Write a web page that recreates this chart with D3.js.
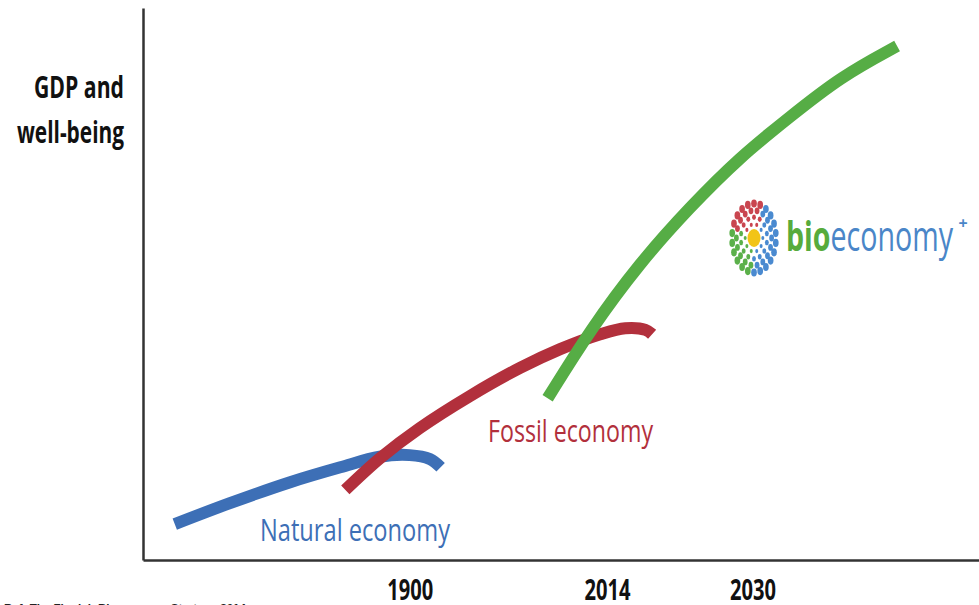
<!DOCTYPE html>
<html>
<head>
<meta charset="utf-8">
<script src="https://cdn.jsdelivr.net/npm/d3@7"></script>
<style>
  html, body { margin: 0; padding: 0; background: #fff; }
  svg { display: block; }
</style>
</head>
<body>
<svg id="chart" width="979" height="605"></svg>
<script>
// data (arbitrary units: x = time, y = GDP and well-being)
var naturalX = [3.8, 10.4, 17.6, 23.6, 28.3, 31.9, 34.3, 35.6];
var naturalY = [6.5, 10.3, 14.1, 16.8, 18.7, 19.0, 18.3, 16.8];
var fossilX = [24.2, 28.4, 33.1, 39.1, 45.1, 49.9, 54.7, 57.7, 60.1, 60.9];
var fossilY = [12.7, 18.5, 23.9, 29.7, 34.8, 38.2, 40.9, 42.0, 41.7, 40.9];
var bioX = [48.4, 53.5, 59.4, 65.4, 71.4, 77.4, 83.4, 90.2];
var bioY = [29.3, 41.7, 53.8, 63.9, 73.0, 80.3, 87.5, 93.1];
var tickPos = [31.9, 55.5, 72.9];
var tickLabels = ["1900", "2014", "2030"];

var svg = d3.select("#chart");

var x = d3.scaleLinear().domain([0, 100]).range([143, 979]);
var y = d3.scaleLinear().domain([0, 100]).range([560, 8]);

function pts(xs, ys) {
	return xs.map(function(d, i){ return [d, ys[i]]; });
}

function lineWith(curve) {
	return d3.line()
		.x(function(d){ return x(d[0]); })
		.y(function(d){ return y(d[1]); })
		.curve(curve);
}

var series = [
	{ name: "natural", data: pts(naturalX, naturalY), color: "#3d6fb6", curve: d3.curveCatmullRom.alpha(0.5) },
	{ name: "fossil", data: pts(fossilX, fossilY), color: "#b2303c", curve: d3.curveCatmullRom.alpha(0.5) },
	{ name: "bio", data: pts(bioX, bioY), color: "#56ad45", curve: d3.curveBasis }
];

svg.selectAll("path.curve")
	.data(series)
	.enter()
	.append("path")
	.attr("class", "curve")
	.attr("d", function(d){ return lineWith(d.curve)(d.data); })
	.attr("fill", "none")
	.attr("stroke", function(d){ return d.color; })
	.attr("stroke-width", 12)
	.attr("stroke-linecap", "butt");

// axes
var xAxis = d3.axisBottom(x).tickValues(tickPos)
	.tickFormat(function(d, i){ return tickLabels[i]; })
	.tickSize(0).tickPadding(19);
var gx = svg.append("g").attr("transform", "translate(0," + y(0) + ")").call(xAxis);
gx.select(".domain").attr("stroke", "#333").attr("stroke-width", 2.5);
gx.selectAll("text")
	.attr("fill", "#111")
	.style("font-family", "'Open Sans', sans-serif")
	.style("font-weight", "bold")
	.style("font-size", "29px")
	.attr("textLength", 46)
	.attr("lengthAdjust", "spacingAndGlyphs");

var yAxis = d3.axisLeft(y).tickValues([]).tickSize(0);
var gy = svg.append("g").attr("transform", "translate(" + x(0) + ",0)").call(yAxis);
gy.select(".domain").attr("stroke", "#333").attr("stroke-width", 2.5);

// y title
var yt = svg.append("text")
	.attr("text-anchor", "end")
	.attr("fill", "#111")
	.style("font-family", "'Open Sans', sans-serif")
	.style("font-weight", "bold")
	.style("font-size", "30px");
yt.append("tspan").attr("x", 124).attr("y", 98).text("GDP and")
	.attr("textLength", 90).attr("lengthAdjust", "spacingAndGlyphs");
yt.append("tspan").attr("x", 124).attr("y", 143).text("well-being")
	.attr("textLength", 107).attr("lengthAdjust", "spacingAndGlyphs");

// curve labels
svg.append("text")
	.attr("x", 260).attr("y", 541)
	.attr("fill", "#3d6fb6")
	.style("font-family", "'Open Sans', sans-serif")
	.style("font-size", "31px")
	.attr("textLength", 190).attr("lengthAdjust", "spacingAndGlyphs")
	.text("Natural economy");

svg.append("text")
	.attr("x", 488).attr("y", 442)
	.attr("fill", "#b2303c")
	.style("font-family", "'Open Sans', sans-serif")
	.style("font-size", "31px")
	.attr("textLength", 165).attr("lengthAdjust", "spacingAndGlyphs")
	.text("Fossil economy");

// bioeconomy logo
var logo = svg.append("g").attr("transform", "translate(754,238)");
var rings = [[10, 10], [15, 14], [20, 18], [25, 22]];
rings.forEach(function(r, k){
	for (var j = 0; j < r[1]; j++) {
		var a = (j + (k % 2) * 0.5) / r[1] * 360;
		var c = (a >= 300 || a < 95) ? "#4a8ad0" : (a < 195 ? "#5bb04a" : "#c9454f");
		var rad = a * Math.PI / 180;
		logo.append("ellipse")
			.attr("cx", Math.cos(rad) * r[0] * 0.88)
			.attr("cy", Math.sin(rad) * r[0] * 1.38)
			.attr("rx", 1.5 + k * 0.45)
			.attr("ry", 2.1 + k * 0.65)
			.attr("fill", c);
	}
});
logo.append("ellipse").attr("rx", 6.5).attr("ry", 9).attr("fill", "#f2c417");

var lt = svg.append("text")
	.attr("x", 786).attr("y", 251)
	.style("font-family", "'Open Sans', sans-serif")
	.style("font-size", "42px")
	.attr("textLength", 167).attr("lengthAdjust", "spacingAndGlyphs");
lt.append("tspan").attr("fill", "#57ab3c").style("font-weight", "bold").text("bio");
lt.append("tspan").attr("fill", "#4a86c8").text("economy");
svg.append("text")
	.attr("x", 963).attr("y", 229)
	.attr("text-anchor", "middle")
	.attr("fill", "#4a86c8")
	.style("font-family", "'Open Sans', sans-serif")
	.style("font-weight", "bold")
	.style("font-size", "16px")
	.text("+");

// source note (cut off at bottom)
svg.append("text")
	.attr("x", 4).attr("y", 612)
	.attr("fill", "#222")
	.style("font-family", "'Liberation Sans', sans-serif")
	.style("font-weight", "bold")
	.style("font-size", "11px")
	.attr("textLength", 242).attr("lengthAdjust", "spacingAndGlyphs")
	.text("Ref: The Finnish Bioeconomy Strategy 2014");
</script>
</body>
</html>
